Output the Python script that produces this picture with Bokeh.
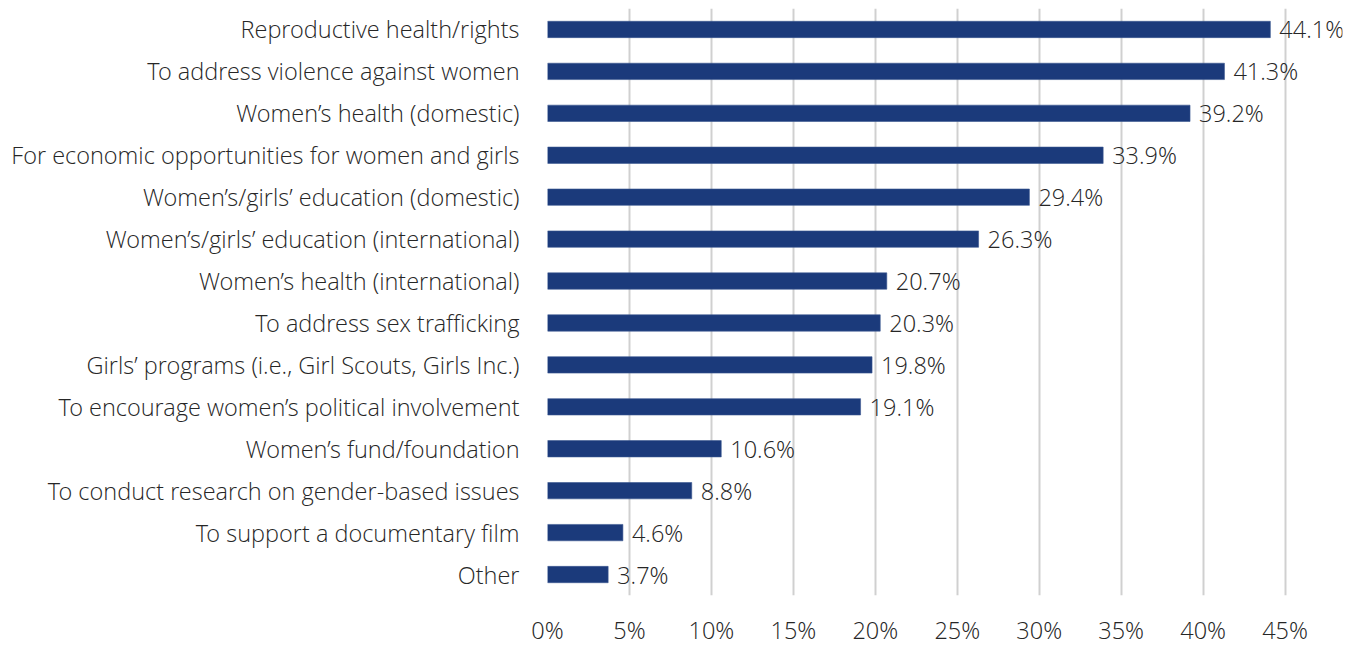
from bokeh.plotting import figure
from bokeh.models import ColumnDataSource, FixedTicker, PrintfTickFormatter, FactorRange, Range1d
from bokeh.core.properties import value
from bokeh.embed import file_html
from bokeh.resources import INLINE

categories = [
    "Reproductive health/rights",
    "To address violence against women",
    "Women’s health (domestic)",
    "For economic opportunities for women and girls",
    "Women’s/girls’ education (domestic)",
    "Women’s/girls’ education (international)",
    "Women’s health (international)",
    "To address sex trafficking",
    "Girls’ programs (i.e., Girl Scouts, Girls Inc.)",
    "To encourage women’s political involvement",
    "Women’s fund/foundation",
    "To conduct research on gender-based issues",
    "To support a documentary film",
    "Other",
]
values = [44.1, 41.3, 39.2, 33.9, 29.4, 26.3, 20.7, 20.3, 19.8, 19.1, 10.6, 8.8, 4.6, 3.7]
x_ticks = [0, 5, 10, 15, 20, 25, 30, 35, 40, 45]

FONT = "Open Sans Light, Open Sans"
TEXT_COLOR = "#262626"
BAR_COLOR = "#1b3a7b"
FS = "23.5px"

labels = [f"{v:.1f}%" for v in values]
src = ColumnDataSource(dict(cat=categories, val=values, lab=labels))

W, H = 1352, 649
LEFT, RIGHT = 547, 10
x_end = (W - LEFT - RIGHT) / (737.6 / 45.0)

p = figure(
    width=W, height=H,
    y_range=FactorRange(factors=list(reversed(categories))),
    x_range=Range1d(0, x_end),
    output_backend="svg", toolbar_location=None,
    min_border_left=LEFT, min_border_right=RIGHT, min_border_top=8, min_border_bottom=H - 595,
)
p.outline_line_color = None
p.background_fill_color = "white"

p.hbar(y="cat", right="val", left=0, height=0.39, source=src,
       fill_color=BAR_COLOR, line_color="#3b5791", line_width=0.6)

p.text(x="val", y="cat", text="lab", source=src, x_offset=9,
       text_font=value(FONT), text_font_size=FS, text_color=TEXT_COLOR,
       text_baseline="middle", text_align="left")

p.xgrid.ticker = FixedTicker(ticks=x_ticks)
p.xgrid.grid_line_color = "#d0d0d0"
p.xgrid.grid_line_width = 2
p.ygrid.grid_line_color = None

p.xaxis.ticker = FixedTicker(ticks=x_ticks)
p.xaxis.formatter = PrintfTickFormatter(format="%d%%")
p.xaxis.axis_line_color = None
p.xaxis.major_tick_line_color = None
p.xaxis.minor_tick_line_color = None
p.xaxis.major_tick_in = 0
p.xaxis.major_tick_out = 0
p.xaxis.major_label_standoff = 18
p.xaxis.major_label_text_line_height = 1.0
p.xaxis.major_label_text_font = FONT
p.xaxis.major_label_text_font_size = FS
p.xaxis.major_label_text_color = TEXT_COLOR

p.yaxis.axis_line_color = None
p.yaxis.major_tick_line_color = None
p.yaxis.minor_tick_line_color = None
p.yaxis.major_tick_in = 0
p.yaxis.major_tick_out = 0
p.yaxis.major_label_standoff = 28
p.yaxis.major_label_text_font = FONT
p.yaxis.major_label_text_font_size = FS
p.yaxis.major_label_text_color = TEXT_COLOR

open("out.html", "w").write(file_html(p, INLINE))
